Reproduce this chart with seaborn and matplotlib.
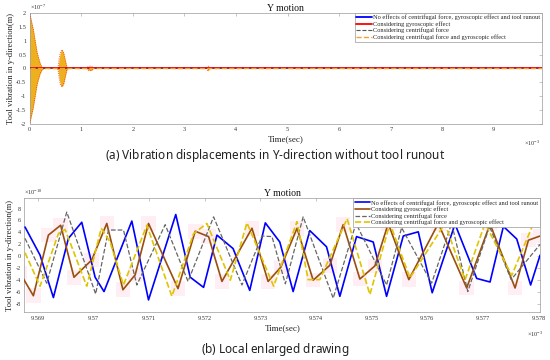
import seaborn as sns
from matplotlib import pyplot as plt

# ---- (a) full record, time in 1e-3 s, displacement in 1e-7 m ----
top_line_t = [0.0, 9.93]
top_line_y = [0.0, 0.0]
env_t = [0.0, 0.005, 0.07, 0.145, 0.20, 0.24, 0.27, 0.53, 0.55, 0.57, 0.60, 0.63,
         0.66, 0.69, 0.72, 0.74, 1.11, 1.13, 1.17, 1.21, 1.23, 3.44, 3.45, 3.47, 3.48, 9.93]
env_hi = [1.95, 1.95, 1.4, 0.56, 0.2, 0.05, 0.0, 0.0, 0.05, 0.35, 0.62, 0.68,
          0.55, 0.3, 0.06, 0.0, 0.0, 0.06, 0.08, 0.06, 0.0, 0.0, 0.08, 0.08, 0.0, 0.0]
env_lo = [-1.95, -1.95, -1.4, -0.56, -0.2, -0.05, 0.0, 0.0, -0.05, -0.35, -0.62, -0.66,
          -0.55, -0.3, -0.06, 0.0, 0.0, -0.06, -0.08, -0.06, 0.0, 0.0, -0.08, -0.08, 0.0, 0.0]

# ---- (b) local enlarged, time in 1e-3 s, displacement in 1e-10 m ----
blue_t = [9.56877, 9.56904, 9.56928, 9.56955, 9.56979, 9.57003, 9.57019, 9.57069, 9.57099,
          9.57148, 9.57174, 9.57198, 9.57222, 9.57251, 9.57281, 9.57309, 9.57335, 9.57359,
          9.57389, 9.57419, 9.57443, 9.57473, 9.57503, 9.57527, 9.57557, 9.57584, 9.57609,
          9.57650, 9.57689, 9.57713, 9.57737, 9.57761, 9.57786, 9.57803]
blue_y = [4.9, 0.2, -6.9, 3.0, 5.7, -3.5, -5.9, 5.9, -7.3,
          7.0, -3.5, -5.2, 3.55, 1.3, -5.7, 5.6, 2.4, -5.9,
          4.3, 1.6, -6.7, 3.3, 2.4, -6.7, 3.4, 4.1, -6.1,
          5.4, -3.7, -4.3, 5.0, 2.9, -4.8, 0.2]

brown_t = [9.56868, 9.56892, 9.56919, 9.56941, 9.56965, 9.56997, 9.57024, 9.57053, 9.57075,
           9.57099, 9.57152, 9.57183, 9.57207, 9.57231, 9.57285, 9.57314, 9.57337, 9.57366,
           9.57395, 9.57425, 9.57449, 9.57479, 9.57506, 9.57530, 9.57567, 9.57620, 9.57671,
           9.57713, 9.57758, 9.57782, 9.57803]
brown_y = [-2.8, -6.6, 3.55, 5.2, -3.5, -0.6, 5.5, -5.6, -3.1,
           5.5, -5.4, 4.2, 3.3, -4.2, 4.7, -4.2, -1.8, 4.7,
           -4.0, -1.5, 5.3, -3.8, -1.6, 5.5, -3.9, 5.5, -5.3,
           5.4, -5.3, 2.7, 3.4]

gray_t = [9.56877, 9.56916, 9.56952, 9.57004, 9.57027, 9.57054, 9.57078, 9.57129, 9.57170,
          9.57216, 9.57267, 9.57303, 9.57321, 9.57345, 9.57377, 9.57431, 9.57472, 9.57527,
          9.57554, 9.57608, 9.57644, 9.57673, 9.57712, 9.57751, 9.57803]
gray_y = [3.0, -4.5, 7.4, -6.3, 4.4, 4.4, -4.8, 5.3, -4.2,
          6.6, -4.8, 3.4, 3.3, -4.6, 6.6, -7.0, 5.5, -4.8,
          4.8, -4.5, 5.5, -5.9, 5.0, -3.9, 2.0]

yellow_t = [9.56877, 9.56904, 9.56937, 9.56949, 9.56988, 9.57014, 9.57030, 9.57054, 9.57096,
            9.57141, 9.57180, 9.57204, 9.57246, 9.57276, 9.57324, 9.57366, 9.57386, 9.57407,
            9.57456, 9.57497, 9.57533, 9.57569, 9.57632, 9.57668, 9.57704, 9.57752, 9.57791,
            9.57803]
yellow_y = [0.6, -5.0, 3.8, 4.5, -5.0, 4.7, 2.4, -4.8, 5.2,
            -6.7, 3.8, 5.5, -4.0, 5.6, -5.0, 5.8, -3.9, -3.9,
            6.3, -6.4, 5.5, -3.6, 5.5, -3.95, 5.5, -3.2, 5.5,
            5.0]

labels = ["No effects of centrifugal force, gyroscopic effect and tool runout",
          "Considering gyroscopic effect",
          "Considering centrifugal force",
          "Considering centrifugal force and gyroscopic effect"]
top_xticks = [0, 1, 2, 3, 4, 5, 6, 7, 8, 9]
top_yticks = [-2, -1.5, -1, -0.5, 0, 0.5, 1, 1.5, 2]
bot_xticks = [9.569, 9.570, 9.571, 9.572, 9.573, 9.574, 9.575, 9.576, 9.577, 9.578]
bot_xticklabels = ["9.569", "9.57", "9.571", "9.572", "9.573", "9.574", "9.575", "9.576", "9.577", "9.578"]
bot_yticks = [-8, -6, -4, -2, 0, 2, 4, 6, 8]

sns.set_theme(style="white")
plt.rcParams['font.family'] = ['Liberation Serif', 'DejaVu Sans']
plt.rcParams['mathtext.fontset'] = 'custom'
plt.rcParams['mathtext.rm'] = 'Liberation Serif'
plt.rcParams['mathtext.it'] = 'Liberation Serif:italic'
plt.rcParams['mathtext.bf'] = 'Noto Sans:bold'

fig = plt.figure(figsize=(5.5, 3.6), dpi=100)
ax1 = fig.add_axes([0.054, 0.656, 0.931, 0.308])
ax2 = fig.add_axes([0.0445, 0.132, 0.9375, 0.317])


def style_axes(ax):
    for s in ax.spines.values():
        s.set_color('#9a9a9a')
        s.set_linewidth(0.5)
    ax.tick_params(direction='in', top=True, right=True, length=2.5, width=0.4,
                   colors='#9a9a9a', labelcolor='#333333', labelsize=4.5, pad=2.5)
    ax.set_title("Y motion", fontsize=7, pad=1.5, color='#111111')
    ax.set_xlabel("Time(sec)", fontsize=6.5, labelpad=2, color='#222222')
    ax.set_ylabel("Tool vibration in y-direction(m)", fontsize=6.2, labelpad=1, color='#222222')


def add_legend(ax):
    leg = ax.legend(loc='upper right', fontsize=4.6, frameon=True, fancybox=False,
                    edgecolor='#9a9a9a', framealpha=1, borderaxespad=0, borderpad=0.25,
                    labelspacing=0.15, handlelength=2.4, handletextpad=0.2)
    leg.get_frame().set_linewidth(0.5)
    leg.set_zorder(10)


# (a)
ax1.fill_between(env_t, env_lo, env_hi, color='#EDB120', lw=0, zorder=2)
sns.lineplot(x=env_t, y=env_hi, ax=ax1, color='#FF3020', lw=0.6, linestyle=':', zorder=3)
sns.lineplot(x=env_t, y=env_lo, ax=ax1, color='#FF3020', lw=0.6, linestyle=':', zorder=3)
sns.lineplot(x=top_line_t, y=top_line_y, ax=ax1, color='#0000FF', lw=1.3, label=labels[0], zorder=2)
sns.lineplot(x=top_line_t, y=top_line_y, ax=ax1, color='#FF0000', lw=1.3, label=labels[1], zorder=3)
sns.lineplot(x=top_line_t, y=top_line_y, ax=ax1, color='#555555', lw=0.8, linestyle='--', label=labels[2], zorder=3)
sns.lineplot(x=top_line_t, y=top_line_y, ax=ax1, color='#F5A030', lw=1.0, linestyle='--', label=labels[3], zorder=4)
ax1.set_xlim(0, 9.93)
ax1.set_ylim(-2, 2)
ax1.set_xticks(top_xticks)
ax1.set_xticklabels([str(v) for v in top_xticks])
ax1.set_yticks(top_yticks)
ax1.set_yticklabels([f"{v:g}" for v in top_yticks])
style_axes(ax1)
ax1.text(0.0, 1.01, r"$\times10^{-7}$", transform=ax1.transAxes, fontsize=4.5, color='#333333', va='bottom')
ax1.text(0.965, -0.13, r"$\times10^{-3}$", transform=ax1.transAxes, fontsize=4.5, color='#333333', va='top')
add_legend(ax1)

# (b)
sns.scatterplot(x=brown_t, y=brown_y, ax=ax2, marker='s', s=110, color='#FFEEF4',
                edgecolor='none', zorder=1, legend=False)
sns.lineplot(x=blue_t, y=blue_y, ax=ax2, sort=False, color='#0000FF', lw=1.2, label=labels[0], zorder=3)
sns.lineplot(x=brown_t, y=brown_y, ax=ax2, sort=False, color='#9A4E0E', lw=1.2, label=labels[1], zorder=3)
sns.lineplot(x=gray_t, y=gray_y, ax=ax2, sort=False, color='#666666', lw=0.9, linestyle='--', label=labels[2], zorder=3)
sns.lineplot(x=yellow_t, y=yellow_y, ax=ax2, sort=False, color='#E0C400', lw=1.2, linestyle='--', label=labels[3], zorder=3)
ax2.set_xlim(9.56876, 9.57803)
ax2.set_ylim(-9.4, 9.7)
ax2.set_xticks(bot_xticks)
ax2.set_xticklabels(bot_xticklabels)
ax2.set_yticks(bot_yticks)
ax2.set_yticklabels([str(v) for v in bot_yticks])
style_axes(ax2)
ax2.text(0.0, 1.01, r"$\times10^{-10}$", transform=ax2.transAxes, fontsize=4.5, color='#333333', va='bottom')
ax2.text(0.975, -0.15, r"$\times10^{-3}$", transform=ax2.transAxes, fontsize=4.5, color='#333333', va='top')
add_legend(ax2)

# captions
fig.text(0.5, 1 - 155 / 360, r"($\mathbf{a}$) Vibration displacements in Y-direction without tool runout",
         ha='center', va='center', fontsize=8.5, family='Noto Sans', color='#222222')
fig.text(0.5, 1 - 349 / 360, r"($\mathbf{b}$) Local enlarged drawing",
         ha='center', va='center', fontsize=8.5, family='Noto Sans', color='#222222')

plt.savefig("out.png", dpi=100)
